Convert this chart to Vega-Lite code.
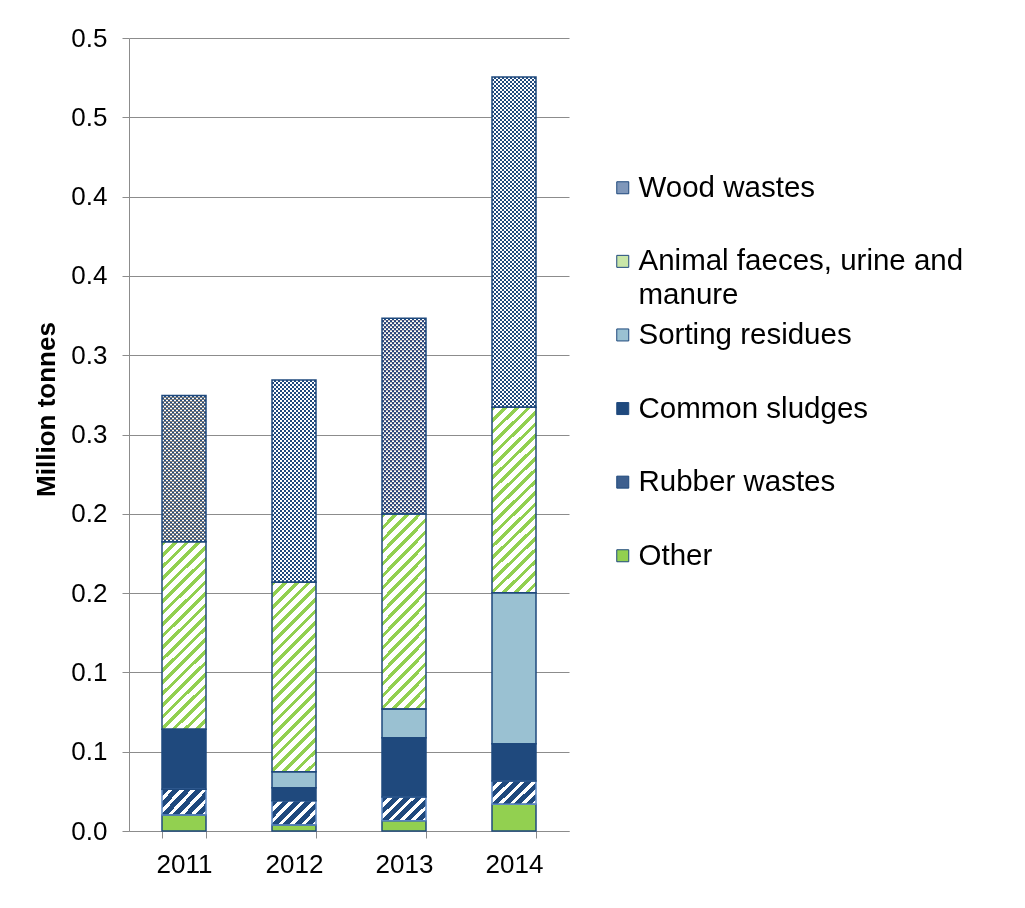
{
  "$schema": "https://vega.github.io/schema/vega-lite/v6.json",
  "width": 440,
  "height": 793,
  "autosize": "none",
  "padding": {"left": 129, "top": 38, "right": 456, "bottom": 77},
  "background": "#ffffff",
  "config": {
    "view": {"stroke": null},
    "font": "Liberation Sans",
    "style": {"guide-label": {"lineHeight": 34}}
  },
  "data": {
    "values": [
      {"year": "2011", "series": "Other", "rank": 1, "value": 0.0101},
      {"year": "2011", "series": "Rubber wastes", "rank": 2, "value": 0.0162},
      {"year": "2011", "series": "Common sludges", "rank": 3, "value": 0.0378},
      {"year": "2011", "series": "Animal faeces, urine and manure", "rank": 5, "value": 0.1182},
      {"year": "2011", "series": "Wood wastes", "rank": 6, "value": 0.0923},
      {"year": "2012", "series": "Other", "rank": 1, "value": 0.0038},
      {"year": "2012", "series": "Rubber wastes", "rank": 2, "value": 0.0153},
      {"year": "2012", "series": "Common sludges", "rank": 3, "value": 0.0082},
      {"year": "2012", "series": "Sorting residues", "rank": 4, "value": 0.0101},
      {"year": "2012", "series": "Animal faeces, urine and manure", "rank": 5, "value": 0.1195},
      {"year": "2012", "series": "Wood wastes", "rank": 6, "value": 0.1274},
      {"year": "2013", "series": "Other", "rank": 1, "value": 0.0065},
      {"year": "2013", "series": "Rubber wastes", "rank": 2, "value": 0.0149},
      {"year": "2013", "series": "Common sludges", "rank": 3, "value": 0.0374},
      {"year": "2013", "series": "Sorting residues", "rank": 4, "value": 0.0181},
      {"year": "2013", "series": "Animal faeces, urine and manure", "rank": 5, "value": 0.1229},
      {"year": "2013", "series": "Wood wastes", "rank": 6, "value": 0.1235},
      {"year": "2014", "series": "Other", "rank": 1, "value": 0.0168},
      {"year": "2014", "series": "Rubber wastes", "rank": 2, "value": 0.0147},
      {"year": "2014", "series": "Common sludges", "rank": 3, "value": 0.0235},
      {"year": "2014", "series": "Sorting residues", "rank": 4, "value": 0.0952},
      {"year": "2014", "series": "Animal faeces, urine and manure", "rank": 5, "value": 0.117},
      {"year": "2014", "series": "Wood wastes", "rank": 6, "value": 0.2082}
    ]
  },
  "transform": [
    {"stack": "value", "groupby": ["year"], "sort": [{"field": "rank", "order": "ascending"}], "as": ["v0", "v1"]}
  ],
  "encoding": {
    "x": {
      "field": "year",
      "type": "nominal",
      "scale": {"paddingInner": 0.6, "paddingOuter": 0.3},
      "axis": {
        "title": null,
        "labelAngle": 0,
        "labelFontSize": 26,
        "labelColor": "#000000",
        "tickBand": "extent",
        "tickSize": 7,
        "tickColor": "#8C8C8C",
        "domainColor": "#8C8C8C",
        "labelPadding": 13
      }
    },
    "y": {
      "field": "v1",
      "type": "quantitative",
      "scale": {"domain": [0, 0.5], "nice": false},
      "axis": {
        "title": "Million tonnes",
        "values": [0, 0.05, 0.1, 0.15, 0.2, 0.25, 0.3, 0.35, 0.4, 0.45, 0.5],
        "labelExpr": "format(datum.value + 0.0001, '.1f')",
        "labelFlush": false,
        "labelOverlap": false,
        "grid": true,
        "gridColor": "#8C8C8C",
        "gridWidth": 1,
        "domainColor": "#8C8C8C",
        "tickColor": "#8C8C8C",
        "tickSize": 7,
        "labelPadding": 15,
        "labelFontSize": 26,
        "labelColor": "#000000",
        "titleFontSize": 26,
        "titleFontWeight": "bold",
        "titleColor": "#000000",
        "titleAngle": 270,
        "titleX": -83,
        "titleY": 371,
        "titleAlign": "center",
        "titleBaseline": "middle"
      }
    },
    "y2": {"field": "v0"}
  },
  "layer": [
    {
      "mark": {"type": "bar"},
      "encoding": {
        "fill": {
          "field": "series",
          "type": "nominal",
          "scale": {
            "domain": ["Wood wastes", "Animal faeces, urine and manure", "Sorting residues", "Common sludges", "Rubber wastes", "Other"],
            "range": ["#7F97BA", "#C9E6A8", "#9AC1D2", "#1F497D", "#3D5F8E", "#92D050"]
          },
          "legend": {
            "title": null,
            "orient": "none",
            "legendX": 479,
            "legendY": 135,
            "symbolType": "square",
            "symbolSize": 144,
            "symbolStrokeColor": "#1F497D",
            "symbolStrokeWidth": 1,
            "labelFontSize": 29.5,
            "labelColor": "#000000",
            "labelOffset": 1,
            "labelLimit": 500,
            "rowPadding": 8.6,
            "gridAlign": "all",
            "labelExpr": "datum.label === 'Animal faeces, urine and manure' ? ['Animal faeces, urine and', 'manure'] : datum.label"
          },
          "condition": [
            {
              "test": "datum.series === 'Wood wastes'",
              "value": {
                "gradient": "linear", "x1": 0, "y1": 0, "x2": 1, "y2": 0,
                "stops": [
                  {"offset": 0, "color": "#000000"}, {"offset": 0.0455, "color": "#000000"},
                  {"offset": 0.0455, "color": "#ffffff"}, {"offset": 0.0909, "color": "#ffffff"},
                  {"offset": 0.0909, "color": "#000000"}, {"offset": 0.1364, "color": "#000000"},
                  {"offset": 0.1364, "color": "#ffffff"}, {"offset": 0.1818, "color": "#ffffff"},
                  {"offset": 0.1818, "color": "#000000"}, {"offset": 0.2273, "color": "#000000"},
                  {"offset": 0.2273, "color": "#ffffff"}, {"offset": 0.2727, "color": "#ffffff"},
                  {"offset": 0.2727, "color": "#000000"}, {"offset": 0.3182, "color": "#000000"},
                  {"offset": 0.3182, "color": "#ffffff"}, {"offset": 0.3636, "color": "#ffffff"},
                  {"offset": 0.3636, "color": "#000000"}, {"offset": 0.4091, "color": "#000000"},
                  {"offset": 0.4091, "color": "#ffffff"}, {"offset": 0.4545, "color": "#ffffff"},
                  {"offset": 0.4545, "color": "#000000"}, {"offset": 0.5, "color": "#000000"},
                  {"offset": 0.5, "color": "#ffffff"}, {"offset": 0.5455, "color": "#ffffff"},
                  {"offset": 0.5455, "color": "#000000"}, {"offset": 0.5909, "color": "#000000"},
                  {"offset": 0.5909, "color": "#ffffff"}, {"offset": 0.6364, "color": "#ffffff"},
                  {"offset": 0.6364, "color": "#000000"}, {"offset": 0.6818, "color": "#000000"},
                  {"offset": 0.6818, "color": "#ffffff"}, {"offset": 0.7273, "color": "#ffffff"},
                  {"offset": 0.7273, "color": "#000000"}, {"offset": 0.7727, "color": "#000000"},
                  {"offset": 0.7727, "color": "#ffffff"}, {"offset": 0.8182, "color": "#ffffff"},
                  {"offset": 0.8182, "color": "#000000"}, {"offset": 0.8636, "color": "#000000"},
                  {"offset": 0.8636, "color": "#ffffff"}, {"offset": 0.9091, "color": "#ffffff"},
                  {"offset": 0.9091, "color": "#000000"}, {"offset": 0.9545, "color": "#000000"},
                  {"offset": 0.9545, "color": "#ffffff"}, {"offset": 1, "color": "#ffffff"}
                ]
              }
            },
            {
              "test": "datum.series === 'Animal faeces, urine and manure'",
              "value": {
                "gradient": "linear", "x1": 0, "y1": 0, "x2": 0.2707, "y2": 1.1689,
                "stops": [
                  {"offset": 0, "color": "#92D050"}, {"offset": 0.02, "color": "#92D050"}, {"offset": 0.02, "color": "#ffffff"}, {"offset": 0.05, "color": "#ffffff"},
                  {"offset": 0.05, "color": "#92D050"}, {"offset": 0.07, "color": "#92D050"}, {"offset": 0.07, "color": "#ffffff"}, {"offset": 0.1, "color": "#ffffff"},
                  {"offset": 0.1, "color": "#92D050"}, {"offset": 0.12, "color": "#92D050"}, {"offset": 0.12, "color": "#ffffff"}, {"offset": 0.15, "color": "#ffffff"},
                  {"offset": 0.15, "color": "#92D050"}, {"offset": 0.17, "color": "#92D050"}, {"offset": 0.17, "color": "#ffffff"}, {"offset": 0.2, "color": "#ffffff"},
                  {"offset": 0.2, "color": "#92D050"}, {"offset": 0.22, "color": "#92D050"}, {"offset": 0.22, "color": "#ffffff"}, {"offset": 0.25, "color": "#ffffff"},
                  {"offset": 0.25, "color": "#92D050"}, {"offset": 0.27, "color": "#92D050"}, {"offset": 0.27, "color": "#ffffff"}, {"offset": 0.3, "color": "#ffffff"},
                  {"offset": 0.3, "color": "#92D050"}, {"offset": 0.32, "color": "#92D050"}, {"offset": 0.32, "color": "#ffffff"}, {"offset": 0.35, "color": "#ffffff"},
                  {"offset": 0.35, "color": "#92D050"}, {"offset": 0.37, "color": "#92D050"}, {"offset": 0.37, "color": "#ffffff"}, {"offset": 0.4, "color": "#ffffff"},
                  {"offset": 0.4, "color": "#92D050"}, {"offset": 0.42, "color": "#92D050"}, {"offset": 0.42, "color": "#ffffff"}, {"offset": 0.45, "color": "#ffffff"},
                  {"offset": 0.45, "color": "#92D050"}, {"offset": 0.47, "color": "#92D050"}, {"offset": 0.47, "color": "#ffffff"}, {"offset": 0.5, "color": "#ffffff"},
                  {"offset": 0.5, "color": "#92D050"}, {"offset": 0.52, "color": "#92D050"}, {"offset": 0.52, "color": "#ffffff"}, {"offset": 0.55, "color": "#ffffff"},
                  {"offset": 0.55, "color": "#92D050"}, {"offset": 0.57, "color": "#92D050"}, {"offset": 0.57, "color": "#ffffff"}, {"offset": 0.6, "color": "#ffffff"},
                  {"offset": 0.6, "color": "#92D050"}, {"offset": 0.62, "color": "#92D050"}, {"offset": 0.62, "color": "#ffffff"}, {"offset": 0.65, "color": "#ffffff"},
                  {"offset": 0.65, "color": "#92D050"}, {"offset": 0.67, "color": "#92D050"}, {"offset": 0.67, "color": "#ffffff"}, {"offset": 0.7, "color": "#ffffff"},
                  {"offset": 0.7, "color": "#92D050"}, {"offset": 0.72, "color": "#92D050"}, {"offset": 0.72, "color": "#ffffff"}, {"offset": 0.75, "color": "#ffffff"},
                  {"offset": 0.75, "color": "#92D050"}, {"offset": 0.77, "color": "#92D050"}, {"offset": 0.77, "color": "#ffffff"}, {"offset": 0.8, "color": "#ffffff"},
                  {"offset": 0.8, "color": "#92D050"}, {"offset": 0.82, "color": "#92D050"}, {"offset": 0.82, "color": "#ffffff"}, {"offset": 0.85, "color": "#ffffff"},
                  {"offset": 0.85, "color": "#92D050"}, {"offset": 0.87, "color": "#92D050"}, {"offset": 0.87, "color": "#ffffff"}, {"offset": 0.9, "color": "#ffffff"},
                  {"offset": 0.9, "color": "#92D050"}, {"offset": 0.92, "color": "#92D050"}, {"offset": 0.92, "color": "#ffffff"}, {"offset": 0.95, "color": "#ffffff"},
                  {"offset": 0.95, "color": "#92D050"}, {"offset": 0.97, "color": "#92D050"}, {"offset": 0.97, "color": "#ffffff"}, {"offset": 1, "color": "#ffffff"}
                ]
              }
            },
            {
              "test": "datum.series === 'Rubber wastes'",
              "value": {
                "gradient": "linear", "x1": 0, "y1": 0, "x2": 1.191, "y2": 0.6497,
                "stops": [
                  {"offset": 0, "color": "#1F497D"}, {"offset": 0.1, "color": "#1F497D"}, {"offset": 0.1, "color": "#ffffff"}, {"offset": 0.1667, "color": "#ffffff"},
                  {"offset": 0.1667, "color": "#1F497D"}, {"offset": 0.2667, "color": "#1F497D"}, {"offset": 0.2667, "color": "#ffffff"}, {"offset": 0.3333, "color": "#ffffff"},
                  {"offset": 0.3333, "color": "#1F497D"}, {"offset": 0.4333, "color": "#1F497D"}, {"offset": 0.4333, "color": "#ffffff"}, {"offset": 0.5, "color": "#ffffff"},
                  {"offset": 0.5, "color": "#1F497D"}, {"offset": 0.6, "color": "#1F497D"}, {"offset": 0.6, "color": "#ffffff"}, {"offset": 0.6667, "color": "#ffffff"},
                  {"offset": 0.6667, "color": "#1F497D"}, {"offset": 0.7667, "color": "#1F497D"}, {"offset": 0.7667, "color": "#ffffff"}, {"offset": 0.8333, "color": "#ffffff"},
                  {"offset": 0.8333, "color": "#1F497D"}, {"offset": 0.9333, "color": "#1F497D"}, {"offset": 0.9333, "color": "#ffffff"}, {"offset": 1, "color": "#ffffff"}
                ]
              }
            }
          ]
        }
      }
    },
    {
      "transform": [{"filter": "datum.series === 'Wood wastes'"}],
      "mark": {"type": "rule", "color": "#ffffff", "strokeWidth": 44, "strokeDash": [2, 2], "strokeCap": "butt", "blend": "difference"}
    },
    {
      "transform": [{"filter": "datum.series === 'Wood wastes'"}],
      "mark": {"type": "bar", "fill": "#1F497D", "blend": "lighten"}
    },
    {
      "mark": {"type": "bar", "fillOpacity": 0, "strokeWidth": 1.5},
      "encoding": {
        "stroke": {
          "condition": {"test": "datum.series === 'Rubber wastes'", "value": "#5B86C2"},
          "value": "#1F497D"
        }
      }
    }
  ]
}
